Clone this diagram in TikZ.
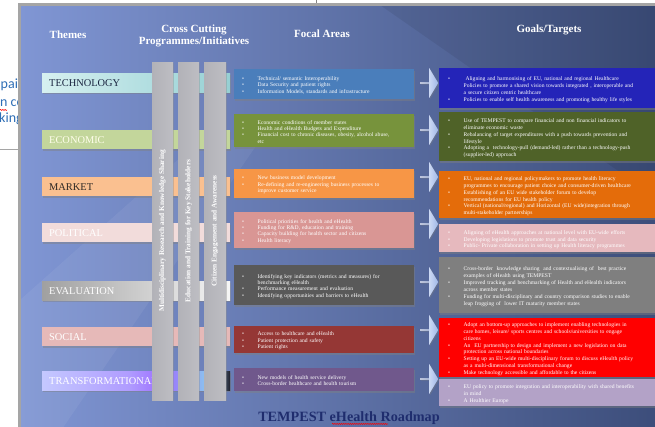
\documentclass[tikz,border=0pt]{standalone}
\usepackage{fontspec}
\setmainfont{Liberation Serif}
\newfontfamily\fragfont{Carlito}
\usetikzlibrary{shapes.arrows,shadows,decorations.pathmorphing}

\definecolor{bgL}{RGB}{128,150,212}
\definecolor{bgR}{RGB}{60,77,122}
\definecolor{frameg}{RGB}{165,165,165}
\definecolor{fragblue}{RGB}{46,110,182}
\definecolor{titleblue}{RGB}{31,45,110}
\definecolor{ftech}{RGB}{74,126,187}
\definecolor{fecon}{RGB}{119,147,60}
\definecolor{fmark}{RGB}{247,150,70}
\definecolor{fpol}{RGB}{217,150,148}
\definecolor{feval}{RGB}{89,89,89}
\definecolor{fsoc}{RGB}{149,55,53}
\definecolor{ftrans}{RGB}{112,88,140}
\definecolor{gtech}{RGB}{36,36,184}
\definecolor{gecon}{RGB}{79,98,40}
\definecolor{gmark}{RGB}{228,108,10}
\definecolor{gpol}{RGB}{230,185,190}
\definecolor{geval}{RGB}{127,127,127}
\definecolor{gsoc}{RGB}{255,0,0}
\definecolor{gtrans}{RGB}{179,162,199}
\definecolor{ttechL}{RGB}{214,240,240}
\definecolor{ttechR}{RGB}{150,208,212}
\definecolor{tecon}{RGB}{195,214,155}
\definecolor{tmark}{RGB}{250,192,144}
\definecolor{tpol}{RGB}{242,220,219}
\definecolor{tevalL}{RGB}{160,160,160}
\definecolor{tevalR}{RGB}{246,246,246}
\definecolor{tsoc}{RGB}{230,185,184}
\definecolor{trA}{RGB}{196,200,255}
\definecolor{trB}{RGB}{176,156,255}
\definecolor{trC}{RGB}{156,110,255}
\definecolor{trD}{RGB}{140,190,240}
\definecolor{trE}{RGB}{30,30,40}
\definecolor{pilE}{RGB}{178,178,184}
\definecolor{pilM}{RGB}{244,244,246}
\definecolor{arrL}{RGB}{246,248,255}
\definecolor{arrR}{RGB}{160,184,232}
\definecolor{ttdark}{RGB}{26,37,64}
\definecolor{tmdark}{RGB}{45,40,36}

\pgfdeclarehorizontalshading{transsh}{100bp}{color(0bp)=(trA); color(25bp)=(trA); color(48bp)=(trB); color(57bp)=(trC); color(68bp)=(trD); color(72bp)=(trD!60!trE); color(75bp)=(trE); color(100bp)=(trE)}

\newcommand\itm[1]{\par\hangindent=15.5pt\hangafter=1\noindent\hbox to 15.5pt{\textbullet\hfil}#1\par}

\tikzset{
  hdr/.style={text=white, font=\fontsize{11}{12.5}\selectfont\bfseries, inner sep=0pt, align=center},
  tbar/.style={anchor=north west, minimum height=19pt, text width=174pt, inner xsep=7pt, inner ysep=0pt, align=left, font=\fontsize{10.4}{12}\selectfont, drop shadow={opacity=0.45, shadow xshift=1pt, shadow yshift=-1.5pt}},
  pillar/.style={anchor=north west, minimum height=338pt, inner sep=0pt, left color=pilE, middle color=pilM, right color=pilE!85!white, drop shadow={opacity=0.35, shadow xshift=1pt, shadow yshift=-1pt}},
  ptxt/.style={rotate=90, text=white, font=\fontsize{7.3}{8}\selectfont\bfseries, inner sep=0pt},
  fbox/.style={anchor=north west, minimum width=180pt, inner sep=0pt, drop shadow={opacity=0.45, shadow xshift=1.2pt, shadow yshift=-1.5pt}},
  gbox/.style={anchor=north west, minimum width=230pt, inner sep=0pt, drop shadow={opacity=0.45, shadow xshift=1.2pt, shadow yshift=-1.5pt}},
  ftxt/.style={anchor=west, text width=170pt, inner sep=0pt, align=left, text=white, font=\fontsize{5.6}{6.3}\selectfont},
  gtxt/.style={anchor=west, text width=212pt, inner sep=0pt, align=left, text=white, font=\fontsize{5.6}{6.9}\selectfont},
  arr/.style={single arrow, minimum height=18pt, minimum width=30pt, single arrow head extend=5pt, single arrow tip angle=118, inner sep=0pt, draw=none, left color=arrL, right color=arrR, drop shadow={opacity=0.35, shadow xshift=1pt, shadow yshift=-1pt}},
  frag/.style={text=fragblue, font=\fragfont\fontsize{14}{16}\selectfont, inner sep=0pt, anchor=base west},
  squig/.style={draw=red, line width=0.5pt, decorate, decoration={snake, amplitude=0.6pt, segment length=2.2pt}},
  ttl/.style={text=titleblue, font=\fontsize{14.2}{16}\selectfont\bfseries, inner sep=0pt}
}

\begin{document}
\begin{tikzpicture}[x=1pt, y=-1pt]
\useasboundingbox (0,0) rectangle (655,427);
\fill[white] (0,0) rectangle (655,427);

% fragments of the page behind the slide
\node[frag] (fr1) at (0.5,89) {pai};
\node[frag] (fr2) at (0,107) {n co};
\node[frag] (fr3) at (-1,123) {king};
\draw[squig] ([yshift=-3pt]fr2.base west) -- ++(7,0);
\coordinate (ln1) at (0,149);
\coordinate (ln2) at (20,149);
\draw[frameg, line width=0.8pt] (ln1) -- (ln2);
\coordinate (vl1) at (316,0);
\coordinate (vl2) at (316,5);
\draw[frameg!80!black, line width=0.6pt] (vl1) -- (vl2);

% slide
\shade[left color=bgL, right color=bgR] (20,5) rectangle (660,432);
\fill[white, opacity=0.06] (20,300) -- (200,140) -- (260,140) -- (60,432) -- (20,432) -- cycle;
\fill[black, opacity=0.07] (380,5) -- (660,5) -- (660,200) -- cycle;
\draw[frameg, line width=2.6pt] (19.7,4.3) rectangle (665,440);

% headers
\node[hdr] (h1) at (68,35) {Themes};
\node[hdr] (h2) at (194,36) {Cross Cutting\\Programmes/Initiatives};
\node[hdr] (h3) at (322,34) {Focal Areas};
\node[hdr] (h4) at (549,30) {Goals/Targets};

% theme bars
\node[tbar, left color=ttechL, right color=ttechR, text=ttdark] (t1) at (42,73) {TECHNOLOGY};
\node[tbar, fill=tecon, text=white!92!yellow] (t2) at (42,130) {ECONOMIC};
\node[tbar, fill=tmark, text=tmdark] (t3) at (42,177) {MARKET};
\node[tbar, fill=tpol, text=white] (t4) at (42,223) {POLITICAL};
\node[tbar, left color=tevalL, right color=tevalR, text=white] (t5) at (42,281) {EVALUATION};
\node[tbar, fill=tsoc, text=white] (t6) at (42,327) {SOCIAL};
\node[tbar, shading=transsh, text=white] (t7) at (42,371) {TRANSFORMATIONAL};

% pillars
\node[pillar, minimum width=21pt] (p1) at (152,62) {};
\node[pillar, minimum width=21pt] (p2) at (178,62) {};
\node[pillar, minimum width=22pt] (p3) at (204,62) {};
\node[ptxt] (p1t) at (162.5,231) {Multidisciplinary Research and Knowledge Sharing};
\node[ptxt] (p2t) at (188.5,231) {Education and Training for Key Stakeholders};
\node[ptxt] (p3t) at (215,231) {Citizen Engagement and Awareness};

% focal areas
\node[fbox, fill=ftech, minimum height=30pt] (f1) at (234,69) {};
\node[fbox, fill=fecon, minimum height=33pt] (f2) at (234,114) {};
\node[fbox, fill=fmark, minimum height=29pt] (f3) at (234,169) {};
\node[fbox, fill=fpol, minimum height=36pt] (f4) at (234,212) {};
\node[fbox, fill=feval, minimum height=40pt] (f5) at (234,265) {};
\node[fbox, fill=fsoc, minimum height=27pt] (f6) at (234,326) {};
\node[fbox, fill=ftrans, minimum height=23pt] (f7) at (234,368) {};

\node[ftxt] (f1t) at ([xshift=8pt]f1.west) {\itm{Technical/ semantic Interoperability}\itm{Data Security and patient rights}\itm{Information Models, standards and infrastructure}};
\node[ftxt] (f2t) at ([xshift=8pt]f2.west) {\itm{Economic conditions of member states}\itm{Health and eHealth Budgets and Expenditure}\itm{Financial cost to chronic diseases, obesity, alcohol abuse,\newline etc}};
\node[ftxt] (f3t) at ([xshift=8pt]f3.west) {\itm{New business model development}\itm{Re-defining and re-engineering business processes to\newline improve customer service}};
\node[ftxt] (f4t) at ([xshift=8pt]f4.west) {\itm{Political priorities for health and eHealth}\itm{Funding for R\&D, education and training}\itm{Capacity building for health sector and citizens}\itm{Health literacy}};
\node[ftxt] (f5t) at ([xshift=8pt]f5.west) {\itm{Identifying key indicators (metrics and measures) for\newline benchmarking eHealth}\itm{Performance measurement and evaluation}\itm{Identifying opportunities and barriers to eHealth}};
\node[ftxt] (f6t) at ([xshift=8pt]f6.west) {\itm{Access to healthcare and eHealth}\itm{Patient protection and safety}\itm{Patient rights}};
\node[ftxt] (f7t) at ([xshift=8pt]f7.west) {\itm{New models of health service delivery}\itm{Cross-border healthcare and health tourism}};

% arrows
\node[arr] (a1) at (429,83) {};
\node[arr] (a2) at (429,130) {};
\node[arr] (a3) at (429,177) {};
\node[arr] (a4) at (429,224) {};
\node[arr] (a5) at (429,282) {};
\node[arr] (a6) at (429,330) {};
\node[arr] (a7) at (429,379) {};

% goals
\node[gbox, fill=gtech, minimum height=40pt] (g1) at (439,68) {};
\node[gbox, fill=gecon, minimum height=49pt] (g2) at (439,112) {};
\node[gbox, fill=gmark, minimum height=47pt] (g3) at (439,171) {};
\node[gbox, fill=gpol, minimum height=28pt] (g4) at (439,224) {};
\node[gbox, fill=geval, minimum height=56pt] (g5) at (439,257) {};
\node[gbox, fill=gsoc, minimum height=59pt] (g6) at (439,318) {};
\node[gbox, fill=gtrans, minimum height=27pt] (g7) at (439,379) {};

\node[gtxt] (g1t) at ([xshift=9pt]g1.west) {\itm{\ Aligning and harmonising of EU, national and regional Healthcare\newline Policies to promote a shared vision towards integrated , interoperable and\newline a secure citizen centric healthcare}\itm{Policies to enable self health awareness and promoting healthy life styles}};
\node[gtxt] (g2t) at ([xshift=9pt]g2.west) {\itm{Use of TEMPEST to compare financial and non financial indicators to\newline eliminate economic waste}\itm{Rebalancing of target expenditures with a push towards prevention and\newline lifestyle}\itm{Adopting a \ technology-pull (demand-led) rather than a technology-push\newline (supplier-led) approach}};
\node[gtxt] (g3t) at ([xshift=9pt]g3.west) {\itm{EU, national and regional policymakers to promote health literacy\newline programmes to encourage patient choice and consumer-driven healthcare}\itm{Establishing of an EU wide stakeholder forum to develop\newline recommendations for EU health policy}\itm{Vertical (national/regional) and Horizontal (EU wide)integration through\newline multi-stakeholder partnerships}};
\node[gtxt] (g4t) at ([xshift=9pt]g4.west) {\itm{Aligning of eHealth approaches at national level with EU-wide efforts}\itm{Developing legislations to promote trust and data security}\itm{Public- Private collaboration in setting up Health literacy programmes}};
\node[gtxt] (g5t) at ([xshift=9pt]g5.west) {\itm{Cross-border \ knowledge sharing \ and contextualising of \ best practice\newline examples of eHealth using TEMPEST}\itm{Improved tracking and benchmarking of Health and eHealth indicators\newline across member states}\itm{Funding for multi-disciplinary and country comparison studies to enable\newline leap frogging of \ lower IT maturity member states}};
\node[gtxt] (g6t) at ([xshift=9pt]g6.west) {\itm{Adopt an bottom-up approaches to implement enabling technologies in\newline care homes, leisure/ sports centres and schools/universities to engage\newline citizens}\itm{An \ EU partnership to design and implement a new legislation on data\newline protection across national boundaries}\itm{Setting up an EU-wide multi-disciplinary forum to discuss eHealth policy\newline as a multi-dimensional transformational change}\itm{Make technology accessible and affordable to the citizens}};
\node[gtxt] (g7t) at ([xshift=9pt]g7.west) {\itm{EU policy to promote integration and interoperability with shared benefits\newline in mind}\itm{A Healthier Europe}};

% title
\node[ttl] (title) at (349,418) {TEMPEST eHealth Roadmap};
\draw[squig] ([xshift=74pt, yshift=-2.5pt]title.base west) -- ++(56,0);
\end{tikzpicture}
\end{document}
